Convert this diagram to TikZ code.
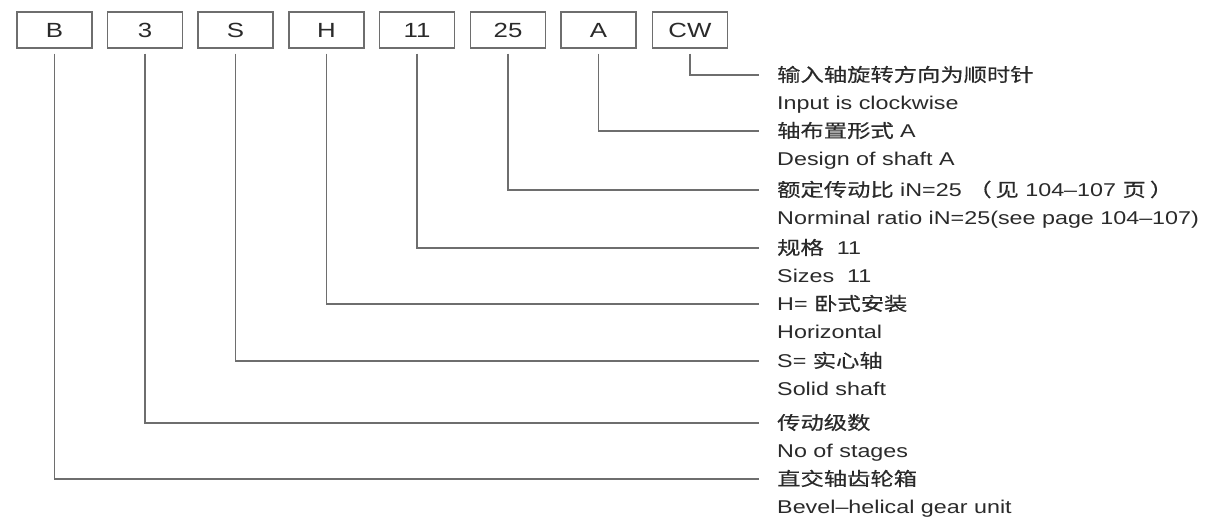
\documentclass[tikz,border=0pt]{standalone}
\usepackage{fontspec}
\setmainfont{Liberation Sans}[FakeStretch=1.26]
\newfontfamily\cjk{Noto Sans CJK SC}[FakeStretch=1.26,FakeBold=0.4]
\definecolor{txt}{HTML}{2A2A2A}
\definecolor{ln}{HTML}{6E6E6E}
\begin{document}
\begin{tikzpicture}[x=1pt,y=-1pt,
  codebox/.style={draw=ln,line width=1.2pt,minimum width=75pt,minimum height=36pt,inner sep=0pt,text=txt,font=\fontsize{20.5}{24}\selectfont},
  lbl/.style={anchor=base west,inner sep=0pt,text=txt,font=\fontsize{18.5}{22}\selectfont},
  conn/.style={draw=ln,line width=1.2pt}]
\useasboundingbox (0,0) rectangle (1214,517);
% code boxes
\node[codebox] (b)  at (54.5,30) {B};
\node[codebox] (n3) at (145,30) {3};
\node[codebox] (s)  at (235.5,30) {S};
\node[codebox] (h)  at (326.5,30) {H};
\node[codebox] (n11) at (417,30) {11};
\node[codebox] (n25) at (508,30) {25};
\node[codebox] (a)  at (598.5,30) {A};
\node[codebox] (cw) at (690,30) {CW};
% labels
\node[lbl] (cwzh) at (777,81.5) {\cjk 输入轴旋转方向为顺时针};
\node[lbl] (cwen) at (777,109.5) {Input is clockwise};
\node[lbl] (azh) at (777,137.5) {{\cjk 轴布置形式} A};
\node[lbl] (aen) at (777,165.5) {Design of shaft A};
\node[lbl] (rzh) at (777,196.5) {{\cjk 额定传动比} iN=25 {\cjk（}\hspace{4pt}{\cjk 见} 104–107 {\cjk 页}\hspace{4pt}{\cjk ）}};
\node[lbl] (ren) at (777,224.5) {Norminal ratio iN=25(see page 104–107)};
\node[lbl] (szzh) at (777,254.5) {{\cjk 规格}\ \ 11};
\node[lbl] (szen) at (777,282.5) {Sizes\ \ 11};
\node[lbl] (hzh) at (777,310.5) {H= {\cjk 卧式安装}};
\node[lbl] (hen) at (777,338.5) {Horizontal};
\node[lbl] (szh) at (777,367.5) {S= {\cjk 实心轴}};
\node[lbl] (sen) at (777,395.5) {Solid shaft};
\node[lbl] (tzh) at (777,429.5) {\cjk 传动级数};
\node[lbl] (ten) at (777,457.5) {No of stages};
\node[lbl] (bzh) at (777,485.5) {\cjk 直交轴齿轮箱};
\node[lbl] (ben) at (777,513.5) {Bevel–helical gear unit};
% connector ends
\coordinate (ecw) at (759,75);
\coordinate (ea) at (759,131);
\coordinate (e25) at (759,190);
\coordinate (e11) at (759,248);
\coordinate (eh) at (759,304);
\coordinate (es) at (759,361);
\coordinate (e3) at (759,423);
\coordinate (eb) at (759,479);
% connectors
\draw[conn] ([yshift=-5pt]cw.south) |- (ecw);
\draw[conn] ([yshift=-5pt]a.south) |- (ea);
\draw[conn] ([yshift=-5pt]n25.south) |- (e25);
\draw[conn] ([yshift=-5pt]n11.south) |- (e11);
\draw[conn] ([yshift=-5pt]h.south) |- (eh);
\draw[conn] ([yshift=-5pt]s.south) |- (es);
\draw[conn] ([yshift=-5pt]n3.south) |- (e3);
\draw[conn] ([yshift=-5pt]b.south) |- (eb);
\end{tikzpicture}
\end{document}
